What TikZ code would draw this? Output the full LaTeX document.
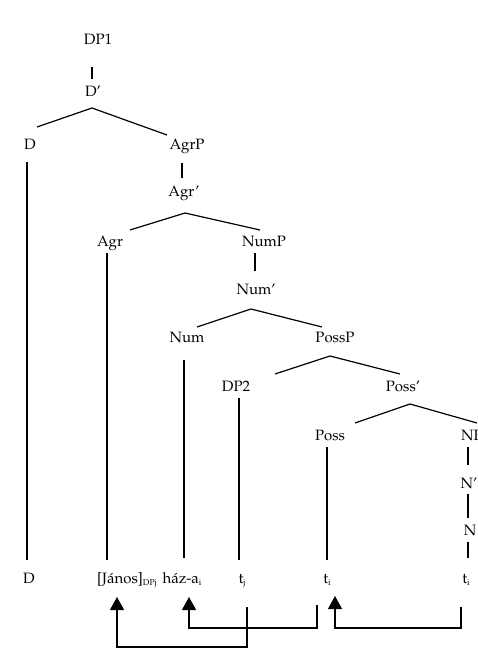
\documentclass[tikz,border=0pt]{standalone}
\usepackage[T1]{fontenc}
\usepackage{mathpazo}
\usetikzlibrary{calc,arrows.meta}
\newcommand\sbx[1]{\raisebox{-0.3ex}{\fontsize{8.5}{10}\selectfont #1}}
\begin{document}
\begin{tikzpicture}[x=1pt,y=-1pt,
  lbl/.style={anchor=base,inner sep=0pt,font=\fontsize{15}{18}\selectfont},
  ln/.style={line width=1.2pt},
  arr/.style={line width=1.2pt,-{Triangle[width=14pt,length=13pt]}}]
\useasboundingbox (0,0) rectangle (478,650);
\clip (0,0) rectangle (478,650);
% tree labels
\node[lbl] (DP1) at (98,45) {DP1};
\node[lbl] (Dbar) at (93,97) {D'};
\node[lbl] (D) at (30,149) {D};
\node[lbl] (AgrP) at (187,149) {AgrP};
\node[lbl] (Agrbar) at (184,196) {Agr'};
\node[lbl] (Agr) at (110,246) {Agr};
\node[lbl] (NumP) at (264,246) {NumP};
\node[lbl] (Numbar) at (256,294) {Num'};
\node[lbl] (Num) at (187,342) {Num};
\node[lbl] (PossP) at (335,342) {PossP};
\node[lbl] (DP2) at (236,391) {DP2};
\node[lbl] (Possbar) at (403,391) {Poss'};
\node[lbl] (Poss) at (330,440) {Poss};
\node[lbl] (NP) at (472,440) {NP};
\node[lbl] (Nbar) at (469,488) {N'};
\node[lbl] (N) at (470,535) {N};
% terminal row
\node[lbl] (Db) at (29,583) {D};
\node[lbl,anchor=base west] (Janos) at (97,583) {[J\'anos]\sbx{DPj}};
\node[lbl] (haz) at (182,583) {h\'az-a\sbx{i}};
\node[lbl] (tj) at (242,583) {t\sbx{j}};
\node[lbl] (tiA) at (327,583) {t\sbx{i}};
\node[lbl] (tiB) at (466,583) {t\sbx{i}};
% branches
\draw[ln] ($(DP1.base)+(-6,22)$) -- ($(Dbar.base)+(-1,-18)$);
\draw[ln] ($(D.base)+(7,-22)$) -- ($(Dbar.base)+(-1,11)$) -- ($(AgrP.base)+(-20,-14)$);
\draw[ln] ($(AgrP.base)+(-5,14)$) -- ($(Agrbar.base)+(-2,-18)$);
\draw[ln] ($(Agr.base)+(20,-16)$) -- ($(Agrbar.base)+(1,17)$) -- ($(NumP.base)+(-4,-16)$);
\draw[ln] ($(NumP.base)+(-9,7)$) -- ($(Numbar.base)+(-1,-23)$);
\draw[ln] ($(Num.base)+(10,-15)$) -- ($(Numbar.base)+(-5,15)$) -- ($(PossP.base)+(-13,-15)$);
\draw[ln] ($(DP2.base)+(39,-17)$) -- ($(PossP.base)+(-5,14)$) -- ($(Possbar.base)+(-3,-17)$);
\draw[ln] ($(Poss.base)+(25,-17)$) -- ($(Possbar.base)+(7,13)$) -- ($(NP.base)+(5,-17)$);
\draw[ln] ($(NP.base)+(-4,7)$) -- ($(Nbar.base)+(-1,-23)$);
\draw[ln] ($(Nbar.base)+(-1,6)$) -- ($(N.base)+(-2,-17)$);
\draw[ln] ($(N.base)+(-2,7)$) -- ($(tiB.base)+(2,-25)$);
% long vertical lines
\draw[ln] ($(D.base)+(-3,13)$) -- ($(Db.base)+(-2,-23)$);
\draw[ln] ($(Agr.base)+(-3,7)$) -- ($(Janos.base west)+(10,-23)$);
\draw[ln] ($(Num.base)+(-3,18)$) -- ($(haz.base)+(2,-25)$);
\draw[ln] ($(DP2.base)+(3,7)$) -- ($(tj.base)+(-3,-23)$);
\draw[ln] ($(Poss.base)+(-3,7)$) -- ($(tiA.base)+(0,-23)$);
% movement arrows
\draw[arr] ($(tj.base)+(5,24)$) -- ++(0,40) -| ($(Janos.base west)+(20,14)$);
\draw[arr] ($(tiA.base)+(-10,22)$) -- ++(0,23) -| ($(haz.base)+(7,14)$);
\draw[arr] ($(tiB.base)+(-5,24)$) -- ++(0,21) -| ($(tiA.base)+(8,13)$);
\end{tikzpicture}
\end{document}
